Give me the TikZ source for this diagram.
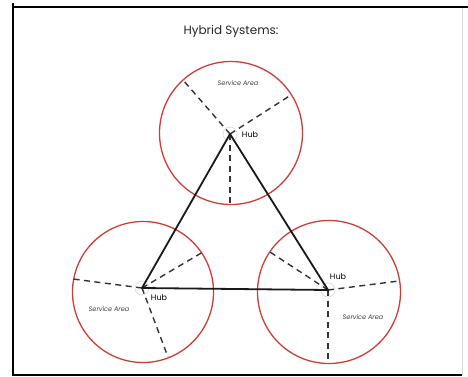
\documentclass[tikz,border=0pt]{standalone}
\usepackage{fontspec}
\setmainfont{Poppins}
\definecolor{areared}{RGB}{205,62,55}
\begin{document}
\begin{tikzpicture}[x=1pt,y=-1pt,
  area/.style={draw=areared, line width=1.3pt},
  hubring/.style={draw=black!15, line width=0.6pt},
  spoke/.style={draw=black!80, line width=1.4pt, dash pattern=on 6pt off 4.5pt},
  link/.style={draw=black!90, line width=1.8pt},
  hublbl/.style={font=\fontsize{8}{9}\selectfont, inner sep=0pt},
  arealbl/.style={font=\itshape\fontsize{6.5}{7}\selectfont, text=black!75, inner sep=0pt},
  titlelbl/.style={font=\fontsize{12}{14}\selectfont, text=black!85, inner sep=0pt}]
\useasboundingbox (0,0) rectangle (468,377);
\fill[white] (0,0) rectangle (468,377);
% frame
\draw[black!15, line width=1pt] (462,7) -- (462,375);
\draw[black, line width=1.3pt] (13,3) -- (13,375) -- (462,375);
\draw[black, line width=1.3pt] (13,7) -- (468,7);
% title
\node[titlelbl] (title) at (231,31) {Hybrid Systems:};
% hubs
\coordinate (hA) at (230,134);
\coordinate (hB) at (142,288);
\coordinate (hC) at (328,290);
% service areas
\draw[area] (231,133) circle (71.5);
\draw[area] (143,292) circle (70.5);
\draw[area] (329,292) circle (71.5);
\draw[hubring] (hA) circle (7);
\draw[hubring] (hB) circle (7);
\draw[hubring] (hC) circle (7);
% spoke ends
\coordinate (a1) at (183,80);
\coordinate (a2) at (291,95);
\coordinate (a3) at (230,203);
\coordinate (b1) at (73,279);
\coordinate (b2) at (203,252);
\coordinate (b3) at (168,357);
\coordinate (c1) at (270,252);
\coordinate (c2) at (399,281);
\coordinate (c3) at (328,363);
\draw[spoke] (hA) -- (a1);
\draw[spoke] (hA) -- (a2);
\draw[spoke] (hA) -- (a3);
\draw[spoke] (hB) -- (b1);
\draw[spoke] (hB) -- (b2);
\draw[spoke] (hB) -- (b3);
\draw[spoke] (hC) -- (c1);
\draw[spoke] (hC) -- (c2);
\draw[spoke] (hC) -- (c3);
% links
\draw[link, line join=round] (hA) -- (hB) -- (hC) -- cycle;
% labels
\node[hublbl] (lA) at (250,135) {Hub};
\node[hublbl] (lB) at (159,298) {Hub};
\node[hublbl] (lC) at (338,277) {Hub};
\node[arealbl] (sA) at (238,83) {Service Area};
\node[arealbl] (sB) at (109,309) {Service Area};
\node[arealbl] (sC) at (363,317) {Service Area};
\end{tikzpicture}
\end{document}
